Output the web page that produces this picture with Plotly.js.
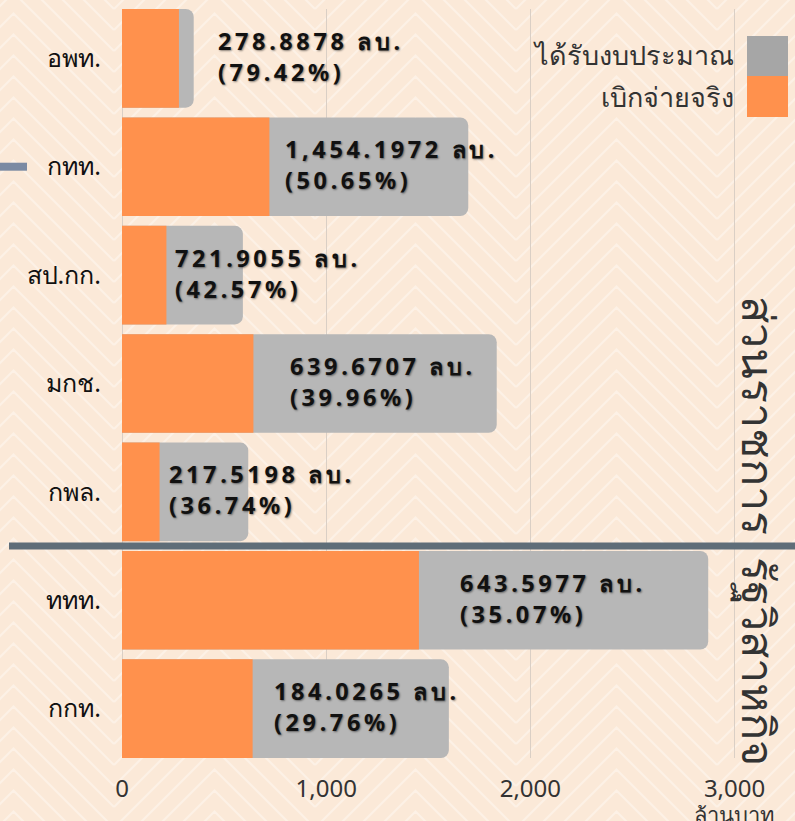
<!DOCTYPE html>
<html>
<head>
<meta charset="utf-8">
<script src="https://cdn.plot.ly/plotly-3.0.1.min.js"></script>
<style>
html, body { margin: 0; padding: 0; width: 795px; height: 821px; overflow: hidden; }
#chart { width: 795px; height: 821px; }
</style>
</head>
<body>
<div id="chart"></div>
<script>
// ---- data ----
const categories = ["อพท.", "กทท.", "สป.กก.", "มกช.", "กพล.", "ททท.", "กกท."];
const budget = [351.2, 1695.8, 592.0, 1835.2, 618.4, 2871.0, 1600.8];   // ได้รับงบประมาณ (ล้านบาท)
const spent  = [278.9, 721.9, 217.5, 643.6, 184.0, 1454.2, 639.7];      // เบิกจ่ายจริง (ล้านบาท)
const labelAmount = [278.8878, 1454.1972, 721.9055, 639.6707, 217.5198, 643.5977, 184.0265];
const labelPct    = [79.42, 50.65, 42.57, 39.96, 36.74, 35.07, 29.76];
const xTicks = [0, 1000, 2000, 3000];
const legendNames = ["ได้รับงบประมาณ", "เบิกจ่ายจริง"];
const groupNames = ["ส่วนราชการ", "รัฐวิสาหกิจ"];
const unitTitle = "ล้านบาท";

// ---- layout / positions (not data) ----
const W = 795, H = 821;
const M = {l: 122, r: 0, t: 9, b: 63};
const PW = W - M.l - M.r, PH = H - M.t - M.b;
const xMax = 3296;
const yPad = 0.455;
const labelPosX = [459, 787, 248, 811, 219, 1644, 733];
const px2x = px => (px - M.l) / PW;
const py2y = py => (H - M.b - py) / PH;
const cat2y = c => (categories.length - 1 + yPad - c) / (categories.length - 1 + 2 * yPad);

const FONT = "'Noto Sans', 'Open Sans', sans-serif";
const GREY = "#b7b7b7", ORANGE = "#ff914d";

// chevron background
(function () {
  const tw = 201, th = 21;
  let d = "";
  for (let k = -6; k <= 8; k++) {
    d += `M0 ${th * k} L${tw / 2} ${th * k - tw / 2} L${tw} ${th * k} `;
  }
  const svg = `<svg xmlns='http://www.w3.org/2000/svg' width='${tw}' height='${th}'><rect width='${tw}' height='${th}' fill='#fbe9d8'/><path d='${d}' stroke='#fdf1e6' stroke-width='2.2' fill='none'/></svg>`;
  document.body.style.background = `#fbe9d8 url("data:image/svg+xml;utf8,${encodeURIComponent(svg)}") repeat`;
  document.body.style.backgroundPosition = `${13 - tw / 2}px 9px`;
})();

const fmt = v => v.toLocaleString('en-US', {minimumFractionDigits: 4, maximumFractionDigits: 4});

const traces = [
  {
    type: 'bar', orientation: 'h', name: legendNames[0],
    y: categories, x: budget, width: 0.91,
    marker: {color: GREY, cornerradius: 8},
    hoverinfo: 'skip', showlegend: false
  },
  {
    type: 'bar', orientation: 'h', name: legendNames[1],
    y: categories, x: spent, width: 0.91,
    marker: {color: ORANGE, cornerradius: 0},
    hoverinfo: 'skip', showlegend: false
  }
];

const annotations = categories.map((c, i) => ({
  xref: 'x', yref: 'y', x: labelPosX[i], y: c, yshift: 2,
  xanchor: 'left', yanchor: 'middle', align: 'left', showarrow: false,
  text: `${fmt(labelAmount[i])} ลบ.<br>(${labelPct[i].toFixed(2)}%)`,
  font: {family: FONT, size: 23.5, weight: 700, color: '#111', shadow: '1px 1px 2px rgba(0,0,0,0.45)'}
}));

// legend (text left of swatch)
annotations.push(
  {xref: 'paper', yref: 'paper', x: px2x(736), y: py2y(55), xanchor: 'right', yanchor: 'middle',
   text: legendNames[0], showarrow: false, font: {family: FONT, size: 27, color: '#333'}},
  {xref: 'paper', yref: 'paper', x: px2x(736), y: py2y(97), xanchor: 'right', yanchor: 'middle',
   text: legendNames[1], showarrow: false, font: {family: FONT, size: 27, color: '#333'}}
);
// group labels (vertical)
annotations.push(
  {xref: 'paper', yref: 'paper', x: px2x(760), y: py2y(415), xanchor: 'center', yanchor: 'middle',
   text: groupNames[0], textangle: 90, showarrow: false, font: {family: FONT, size: 45, color: '#333'}},
  {xref: 'paper', yref: 'paper', x: px2x(760), y: py2y(661), xanchor: 'center', yanchor: 'middle',
   text: groupNames[1], textangle: 90, showarrow: false, font: {family: FONT, size: 45, color: '#333'}}
);
// unit title
annotations.push(
  {xref: 'x', yref: 'paper', x: xTicks[xTicks.length - 1], y: py2y(814), xanchor: 'center', yanchor: 'middle',
   text: unitTitle, showarrow: false, font: {family: FONT, size: 22, color: '#333'}}
);

const shapes = [
  {type: 'rect', xref: 'paper', yref: 'paper', x0: px2x(747), x1: px2x(788), y0: py2y(76), y1: py2y(36),
   fillcolor: '#a6a6a6', line: {width: 0}},
  {type: 'rect', xref: 'paper', yref: 'paper', x0: px2x(747), x1: px2x(788), y0: py2y(117), y1: py2y(76),
   fillcolor: ORANGE, line: {width: 0}},
  {type: 'line', xref: 'paper', yref: 'paper', x0: px2x(9), x1: 1, y0: cat2y(4.5), y1: cat2y(4.5),
   line: {color: '#5f6d78', width: 7}, layer: 'above'},
  {type: 'line', xref: 'paper', yref: 'paper', x0: px2x(0), x1: px2x(27), y0: cat2y(1), y1: cat2y(1),
   line: {color: '#7b8aa3', width: 8}, layer: 'above'}
];

const layout = {
  width: W, height: H,
  margin: M,
  paper_bgcolor: 'rgba(0,0,0,0)',
  plot_bgcolor: 'rgba(0,0,0,0)',
  barmode: 'overlay',
  showlegend: false,
  font: {family: FONT, color: '#333'},
  xaxis: {
    range: [0, xMax], tickvals: xTicks, tickformat: ',',
    showgrid: true, gridcolor: '#dacfc5', gridwidth: 1,
    zeroline: true, zerolinecolor: '#dacfc5', zerolinewidth: 1,
    showline: false, ticks: '', ticklabelstandoff: 14,
    tickfont: {family: FONT, size: 24, color: '#333'}
  },
  yaxis: {
    type: 'category', categoryorder: 'array', categoryarray: categories,
    range: [categories.length - 1 + yPad, -yPad],
    showgrid: false, zeroline: false, showline: false, ticks: '',
    ticklabelstandoff: 20,
    tickfont: {family: FONT, size: 25, color: '#111'}
  },
  annotations: annotations,
  shapes: shapes
};

Plotly.newPlot('chart', traces, layout, {staticPlot: true, displayModeBar: false}).then(gd => {
  gd.querySelectorAll('.annotation').forEach(g => {
    const idx = +g.getAttribute('data-index');
    if (idx < categories.length) {
      g.querySelectorAll('text').forEach(t => t.style.letterSpacing = '3.6px');
    }
  });
});
</script>
</body>
</html>
